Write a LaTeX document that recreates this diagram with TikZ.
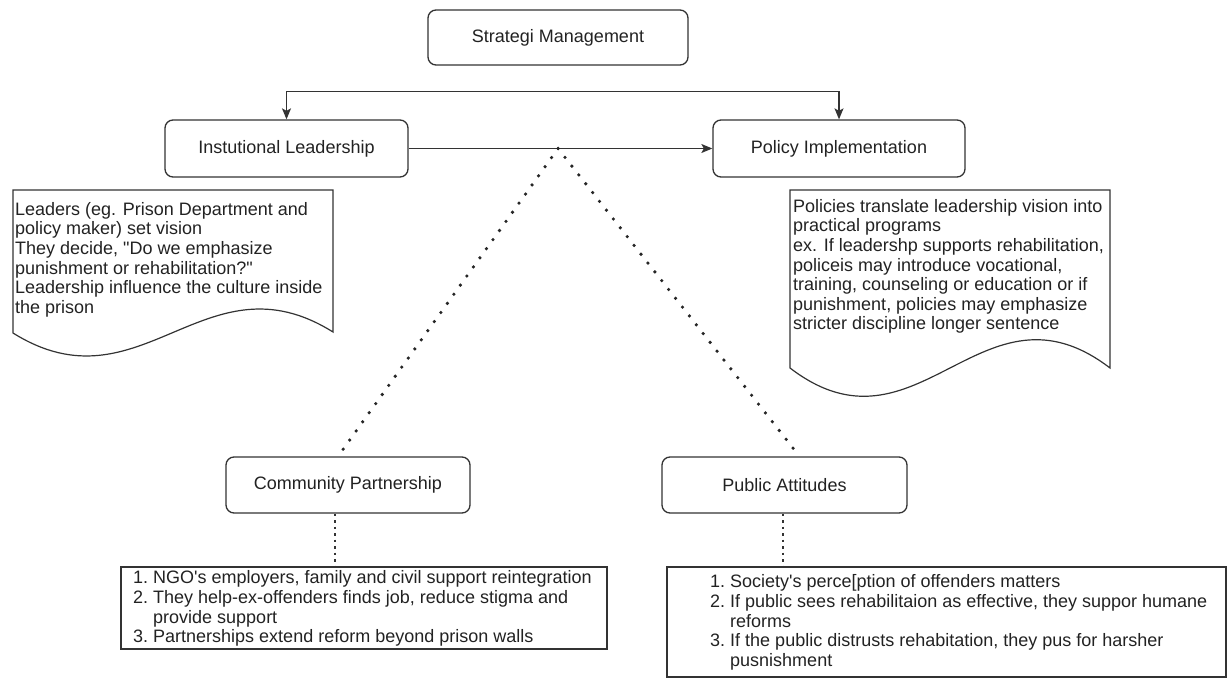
\documentclass[tikz,border=0pt]{standalone}
\usepackage{fontspec}
\setmainfont{Liberation Sans}[Ligatures=TeXOff]
\usetikzlibrary{arrows.meta,calc}
\definecolor{lc}{HTML}{333333}
\definecolor{tc}{HTML}{222222}
\begin{document}
\begin{tikzpicture}[x=1pt,y=-1pt,
  box/.style={draw=lc, line width=1.3pt, rounded corners=8pt, fill=white,
    font=\fontsize{18}{20}\selectfont, text=tc, inner sep=0pt},
  listbox/.style={draw=lc, line width=1.6pt, inner sep=0pt},
  doc/.style={draw=lc, line width=1.2pt},
  txt/.style={font=\fontsize{18}{19.6}\selectfont, text=tc, inner sep=0pt, align=left, anchor=north west},
  arr/.style={draw=lc, line width=1.2pt, -{Stealth[length=11pt,width=9pt,inset=2.5pt]}},
  dots/.style={draw=black!85, line width=3.6pt, line cap=round, dash pattern=on 0pt off 11.2pt},
  vdots/.style={draw=black!80, line width=1.8pt, dash pattern=on 2.5pt off 4pt}
]
\useasboundingbox (0,0) rectangle (1229,679);

% main boxes
\node[box, minimum width=260, minimum height=55] (top) at (558,37.5) {Strategi Management};
\node[box, minimum width=243, minimum height=57] (inst) at (286.5,148.5) {Instutional Leadership};
\node[box, minimum width=252, minimum height=57] (pol) at (839,148.5) {Policy Implementation};
\node[box, minimum width=244, minimum height=56] (comm) at (348,485) {Community Partnership};
\node[box, minimum width=245, minimum height=56] (pub) at (784.5,485) {Public Attitudes};

% connectors top
\draw[arr, {Stealth[length=11pt,width=9pt,inset=2.5pt]}-{Stealth[length=11pt,width=9pt,inset=2.5pt]}]
  (inst.north) -- ++(0,-27.5) -| (pol.north);
\draw[arr] (inst.east) -- (pol.west);

% dotted connectors
\coordinate (apex) at ($(inst.east)!0.492!(pol.west)$);
\coordinate (commtop) at ($(comm.north)+(-10,0)$);
\coordinate (pubtop) at ($(pub.north)+(15,0)$);
\draw[dots] (apex) -- (commtop);
\draw[dots] (apex) -- (pubtop);

% documents
\draw[doc] (13,190) -- (333,190) -- (333,332)
  .. controls (205,252) and (141,413) .. (13,333) -- cycle;
\node[txt] (ldoc) at (15,202) {Leaders (eg. Prison Department and\\policy maker) set vision\\They decide, "Do we emphasize\\punishment or rehabilitation?"\\Leadership influence the culture inside\\the prison};

\draw[doc] (790,190) -- (1110,190) -- (1110,368)
  .. controls (982,270) and (918,466) .. (790,368) -- cycle;
\node[txt] (rdoc) at (793,199) {Policies translate leadership vision into\\practical programs\\ex. If leadershp supports rehabilitation,\\policeis may introduce vocational,\\training, counseling or education or if\\punishment, policies may emphasize\\stricter discipline longer sentence};

% list boxes
\node[listbox, minimum width=486, minimum height=82] (lbox) at (364,608) {};
\node[txt] (ltext) at (133,570) {\begin{tabular}{@{}r@{\hspace{5pt}}l@{}}
1. & NGO's employers, family and civil support reintegration\\
2. & They help-ex-offenders finds job, reduce stigma and\\
   & provide support\\
3. & Partnerships extend reform beyond prison walls
\end{tabular}};

\node[listbox, minimum width=559, minimum height=110] (rbox) at (946.5,622) {};
\node[txt] (rtext) at (710,574) {\begin{tabular}{@{}r@{\hspace{5pt}}l@{}}
1. & Society's perce[ption of offenders matters\\
2. & If public sees rehabilitaion as effective, they suppor humane\\
   & reforms\\
3. & If the public distrusts rehabitation, they pus for harsher\\
   & pusnishment
\end{tabular}};

\coordinate (commbot) at ($(comm.south)+(-13,0)$);
\coordinate (pubbot) at ($(pub.south)+(-1.5,0)$);
\draw[vdots] (commbot) -- (commbot |- lbox.north);
\draw[vdots] (pubbot) -- (pubbot |- rbox.north);
\end{tikzpicture}
\end{document}
